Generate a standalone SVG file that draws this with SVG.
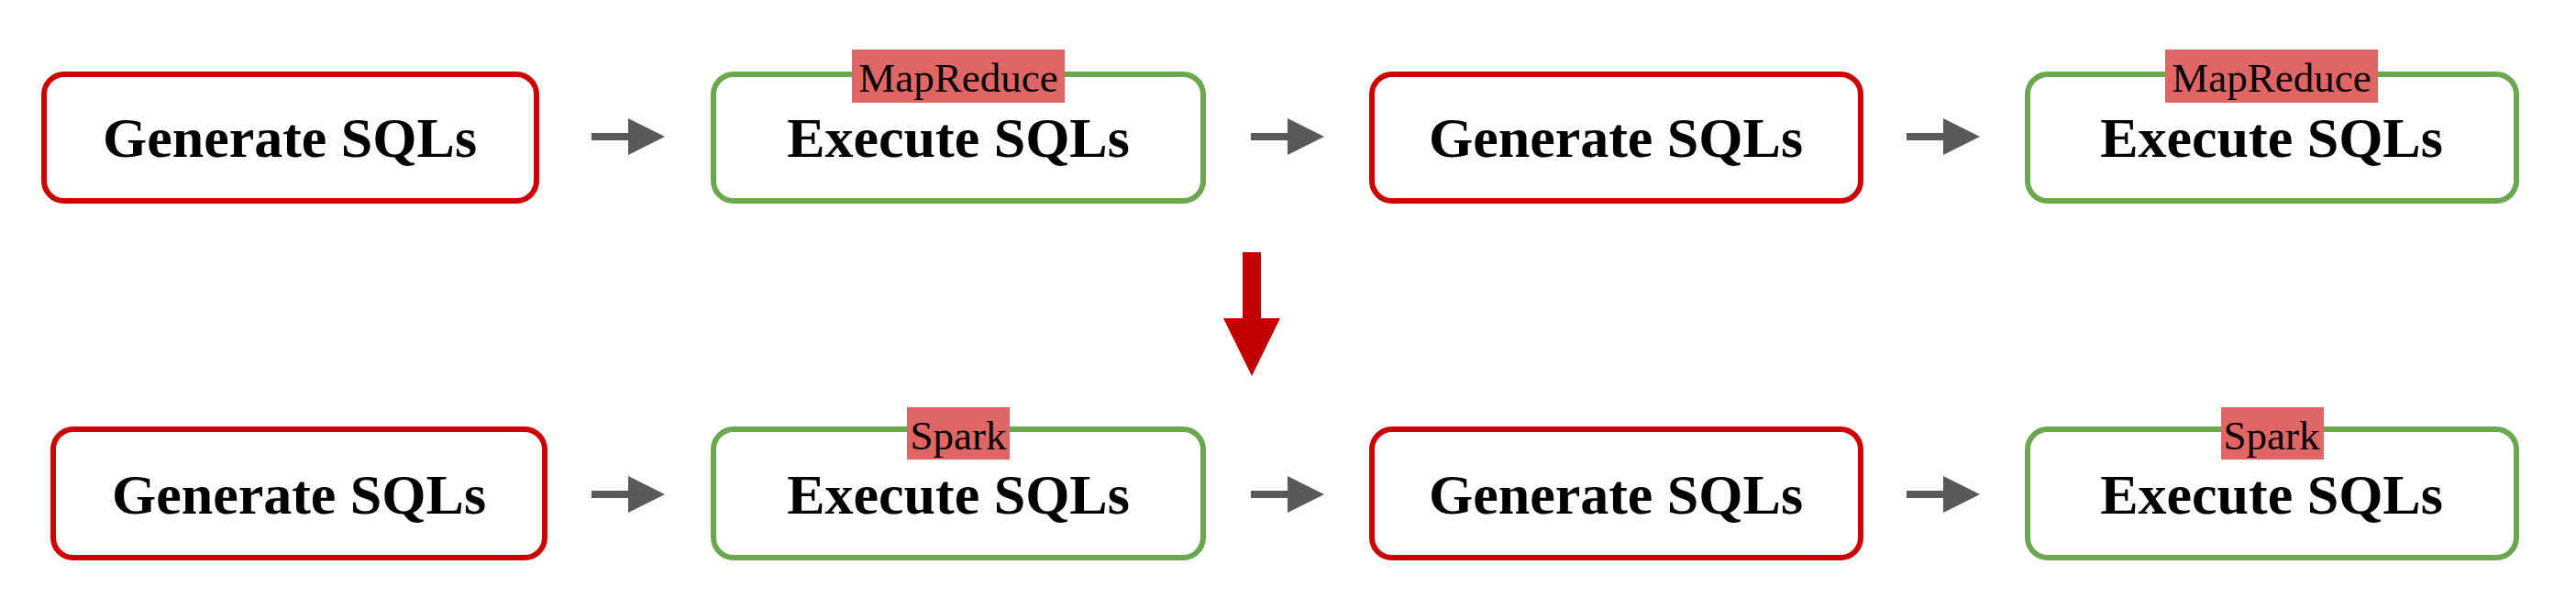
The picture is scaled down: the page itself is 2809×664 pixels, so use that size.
<svg xmlns="http://www.w3.org/2000/svg" width="2809" height="664" viewBox="0 0 2809 664">
<style>
.gen{fill:#fff;stroke:#cc0000;stroke-width:6}
.exe{fill:#fff;stroke:#6aa84f;stroke-width:6}
.t{font-family:"Liberation Serif",serif;font-weight:bold;font-size:62px;text-anchor:middle}
.tag{fill:#e06666}
.tt{font-family:"Liberation Serif",serif;font-size:45px;text-anchor:middle}
.ar{fill:#595959}
</style>
<rect width="2809" height="664" fill="#fff"/>
<g id="n1"><rect class="gen" x="48" y="81" width="537" height="138" rx="22"/><text class="t" x="316" y="171">Generate SQLs</text></g>
<g id="n2"><rect class="exe" x="778" y="81" width="534" height="138" rx="22"/><rect class="tag" x="929" y="54" width="232" height="58"/><text class="tt" x="1045" y="100">MapReduce</text><text class="t" x="1045" y="171">Execute SQLs</text></g>
<g id="n3"><rect class="gen" x="1496" y="81" width="533" height="138" rx="22"/><text class="t" x="1762" y="171">Generate SQLs</text></g>
<g id="n4"><rect class="exe" x="2211" y="81" width="533" height="138" rx="22"/><rect class="tag" x="2361" y="54" width="232" height="58"/><text class="tt" x="2477" y="100">MapReduce</text><text class="t" x="2477" y="171">Execute SQLs</text></g>
<g id="n5"><rect class="gen" x="58" y="468" width="536" height="140" rx="22"/><text class="t" x="326" y="560">Generate SQLs</text></g>
<g id="n6"><rect class="exe" x="778" y="468" width="534" height="140" rx="22"/><rect class="tag" x="989" y="444" width="112" height="57"/><text class="tt" x="1045" y="490">Spark</text><text class="t" x="1045" y="560">Execute SQLs</text></g>
<g id="n7"><rect class="gen" x="1496" y="468" width="533" height="140" rx="22"/><text class="t" x="1762" y="560">Generate SQLs</text></g>
<g id="n8"><rect class="exe" x="2211" y="468" width="533" height="140" rx="22"/><rect class="tag" x="2422" y="444" width="112" height="57"/><text class="tt" x="2477" y="490">Spark</text><text class="t" x="2477" y="560">Execute SQLs</text></g>
<g id="connectors">
<path class="ar" d="M645 145h40v-16l40 20-40 20v-16h-40z"/>
<path class="ar" d="M1364 145h40v-16l40 20-40 20v-16h-40z"/>
<path class="ar" d="M2079 145h40v-16l40 20-40 20v-16h-40z"/>
<path class="ar" d="M645 535h40v-16l40 20-40 20v-16h-40z"/>
<path class="ar" d="M1364 535h40v-16l40 20-40 20v-16h-40z"/>
<path class="ar" d="M2079 535h40v-16l40 20-40 20v-16h-40z"/>
<path fill="#c00000" d="M1355 275h20v72h21l-31 63-31-63h21z"/>
</g>
</svg>
